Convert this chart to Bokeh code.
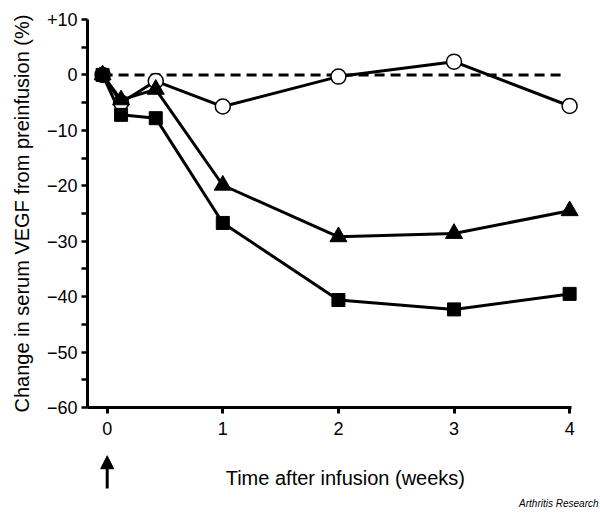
import math
from bokeh.plotting import figure
from bokeh.models import Range1d, FixedTicker, Label, Arrow, NormalHead
from bokeh.embed import file_html
from bokeh.resources import INLINE

# time after infusion (weeks); first point = preinfusion
weeks = [-0.04, 0.12, 0.42, 1, 2, 3, 4]
open_circles = [0, -5.0, -1.1, -5.7, -0.3, 2.4, -5.6]
triangles = [0, -4.5, -2.6, -19.9, -29.2, -28.6, -24.5]
squares = [0, -7.2, -7.8, -26.7, -40.6, -42.3, -39.5]

x_ticks = [0, 1, 2, 3, 4]
y_ticks = [-60, -50, -40, -30, -20, -10, 0, 10]
y_minor = [-55, -45, -35, -25, -15, -5, 5]
y_tick_labels = ["\u221260", "\u221250", "\u221240", "\u221230", "\u221220", "\u221210", "0", "+10"]
baseline_x = [-0.04, 3.93]
baseline_y = [0, 0]

FONT = "Liberation Sans"

p = figure(width=600, height=514, output_backend="svg", toolbar_location=None,
           x_range=Range1d(-0.923, 4.267), y_range=Range1d(-79.3, 13.43),
           min_border_left=0, min_border_right=0, min_border_top=0,
           min_border_bottom=0)
p.outline_line_color = None
p.grid.visible = False
p.background_fill_color = "white"
p.border_fill_color = "white"

# x axis (drawn at y = -60 inside the frame)
xa = p.xaxis[0]
xa.fixed_location = -60
xa.ticker = FixedTicker(ticks=x_ticks)
xa.bounds = (-0.17, 4.02)
xa.axis_line_width = 3
xa.major_tick_line_width = 3
xa.major_tick_in = 0
xa.major_tick_out = 6
xa.minor_tick_line_color = None
xa.major_label_text_font = FONT
xa.major_label_text_font_size = "18px"
xa.major_label_text_color = "black"
xa.major_label_standoff = 8

# y axis (drawn at x = -0.17 inside the frame)
ya = p.yaxis[0]
ya.fixed_location = -0.17
ya.ticker = FixedTicker(ticks=y_ticks, minor_ticks=y_minor)
ya.bounds = (-60, 10)
ya.major_label_overrides = {t: s for t, s in zip(y_ticks, y_tick_labels)}
ya.axis_line_width = 3
ya.major_tick_line_width = 2.5
ya.minor_tick_line_width = 2.5
ya.major_tick_in = 0
ya.major_tick_out = 6
ya.minor_tick_in = 0
ya.minor_tick_out = 6
ya.major_label_text_font = FONT
ya.major_label_text_font_size = "18px"
ya.major_label_text_color = "black"
ya.major_label_standoff = 4

# baseline
p.line(baseline_x, baseline_y, line_color="black", line_width=3, line_dash="10 6")

# series
p.line(weeks, open_circles, line_color="black", line_width=3)
p.line(weeks, triangles, line_color="black", line_width=3)
p.line(weeks, squares, line_color="black", line_width=3)
p.scatter(weeks, open_circles, marker="circle", size=15, fill_color="white",
          line_color="black", line_width=1.5)
p.scatter(weeks, triangles, marker="triangle", size=17, fill_color="black",
          line_color="black")
p.scatter(weeks, squares, marker="square", size=13, fill_color="black",
          line_color="black")

# axis titles, infusion arrow, credit
p.add_layout(Label(x=-0.735, y=-25, text="Change in serum VEGF from preinfusion (%)",
                   angle=math.pi / 2, text_font=FONT, text_font_size="20px",
                   text_align="center", text_baseline="middle", text_color="black"))
p.add_layout(Label(x=2.06, y=-72.8, text="Time after infusion (weeks)",
                   text_font=FONT, text_font_size="20px", text_align="center",
                   text_baseline="middle", text_color="black"))
p.add_layout(Arrow(x_start=0, y_start=-74.6, x_end=0, y_end=-68.7,
                   line_width=3, line_color="black",
                   end=NormalHead(size=13, fill_color="black", line_color="black")))
p.add_layout(Label(x=4.25, y=-77.3, text="Arthritis Research", text_font=FONT,
                   text_font_size="10px", text_font_style="italic",
                   text_align="right", text_baseline="middle", text_color="black"))

open("out.html", "w").write(file_html(p, INLINE))
